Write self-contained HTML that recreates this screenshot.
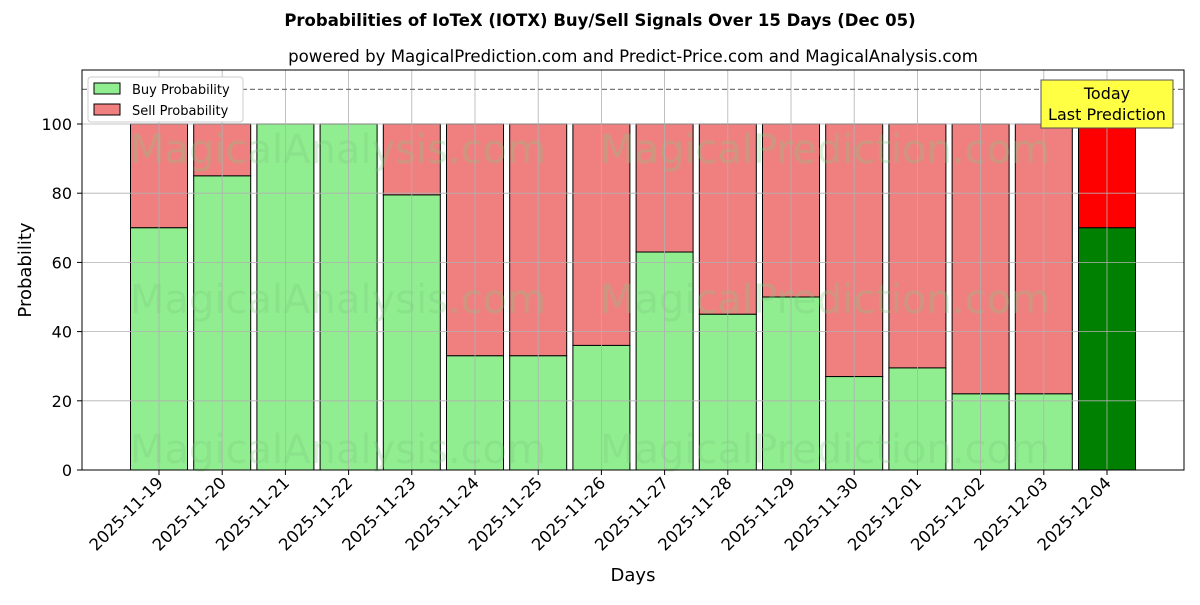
<!DOCTYPE html>
<html><head><meta charset="utf-8"><style>
body{margin:0;background:#fff;font-family:"Liberation Sans","DejaVu Sans",sans-serif}
svg text{font-family:"DejaVu Sans","Liberation Sans",sans-serif}
</style></head><body>
<svg id="chart" width="1200" height="600">
<text x="600" y="26" text-anchor="middle" font-size="16.5" font-weight="bold">Probabilities of IoTeX (IOTX) Buy/Sell Signals Over 15 Days (Dec 05)</text>
<text x="633" y="62" text-anchor="middle" font-size="16.6">powered by MagicalPrediction.com and Predict-Price.com and MagicalAnalysis.com</text>
<g id="bars"></g>
<g id="wm" fill="#7fcc7f" opacity="0.3" font-size="40">
<text x="130" y="163">MagicalAnalysis.com</text>
<text x="600" y="163">MagicalPrediction.com</text>
<text x="130" y="313">MagicalAnalysis.com</text>
<text x="600" y="313">MagicalPrediction.com</text>
<text x="130" y="463">MagicalAnalysis.com</text>
<text x="600" y="463">MagicalPrediction.com</text>
</g>
<g id="grid"></g>
<g id="axes"></g>
<line x1="82" x2="1184" y1="89.4" y2="89.4" stroke="#777" stroke-dasharray="5,3" stroke-width="1.2"/>
<rect x="82" y="70" width="1102" height="400" fill="none" stroke="#000" stroke-width="1"/>
<g>
<rect x="88" y="77" width="155" height="45" fill="#fff" stroke="#ccc" rx="3"/>
<rect x="94" y="83" width="26" height="11" fill="#90ee90" stroke="#000"/>
<text x="132" y="94" font-size="13">Buy Probability</text>
<rect x="94" y="104" width="26" height="11" fill="#f08080" stroke="#000"/>
<text x="132" y="115" font-size="13">Sell Probability</text>
</g>
<g>
<rect x="1041" y="80" width="132" height="48" fill="#ffff44" stroke="#555"/>
<text x="1107" y="99" text-anchor="middle" font-size="16">Today</text>
<text x="1107" y="120" text-anchor="middle" font-size="16">Last Prediction</text>
</g>
<text x="633" y="581" text-anchor="middle" font-size="18">Days</text>
<text transform="translate(31,270) rotate(-90)" text-anchor="middle" font-size="18">Probability</text>
</svg>
<script>
const categories=["2025-11-19","2025-11-20","2025-11-21","2025-11-22","2025-11-23","2025-11-24","2025-11-25","2025-11-26","2025-11-27","2025-11-28","2025-11-29","2025-11-30","2025-12-01","2025-12-02","2025-12-03","2025-12-04"];
const buyValues=[70,85,100,100,79.5,33,33,36,63,45,50,27,29.5,22,22,70];
const yTicks=[0,20,40,60,80,100];
const NS="http://www.w3.org/2000/svg";
const X=i=>159+63.2*i;
const Y=v=>470-3.46*v;
const bw=57;
function mk(tag,attrs,parent,txt){const e=document.createElementNS(NS,tag);for(const k in attrs)e.setAttribute(k,attrs[k]);if(txt!==undefined)e.textContent=txt;document.getElementById(parent).appendChild(e);return e;}
yTicks.forEach(t=>{
  const g=mk('line',{x1:82,x2:1184,y1:Y(t),y2:Y(t),stroke:'#b0b0b0','stroke-width':0.8},'grid');
  
  
  const l=mk('text',{x:72,y:Y(t)+6,'text-anchor':'end','font-size':16},'axes',String(t));
  
  
  mk('line',{x1:77,x2:82,y1:Y(t),y2:Y(t),stroke:'#000'},'axes');
});
categories.forEach((c,i)=>{
  const x=X(i);
  const g=mk('line',{x1:x,x2:x,y1:70,y2:470,stroke:'#b0b0b0','stroke-width':0.8},'grid');
  
  
  const last=i===categories.length-1;
  const b=buyValues[i];
  const s=mk('rect',{x:x-bw/2,y:Y(100),width:bw,height:Y(b)-Y(100),fill:last?'#ff0000':'#f08080',stroke:'#000','stroke-width':1},'bars');
  
  
  const r=mk('rect',{x:x-bw/2,y:Y(b),width:bw,height:Y(0)-Y(b),fill:last?'#008000':'#90ee90',stroke:'#000','stroke-width':1},'bars');
  
  
  mk('line',{x1:x,x2:x,y1:470,y2:475,stroke:'#000'},'axes');
  const t=mk('text',{x:x+5,y:484,'text-anchor':'end','font-size':16.5,transform:`rotate(-45 ${x+5} 484)`},'axes',c);
  
  
});
</script>
</body></html>
